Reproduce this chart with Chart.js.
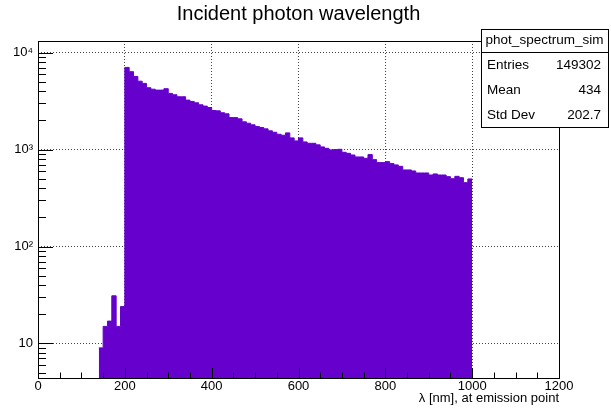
<!DOCTYPE html>
<html>
<head>
<meta charset="UTF-8">
<title>Incident photon wavelength</title>
<script src="https://cdn.jsdelivr.net/npm/chart.js"></script>
<style>
  html, body { margin: 0; padding: 0; background: #fff; }
  canvas { display: block; }
</style>
</head>
<body>
<canvas id="spec" width="611" height="412"></canvas>
<script>
// histogram bins: lower edge of each 10 nm bin, and counts
const binLow = [140, 150, 160, 170, 180, 190, 200, 210, 220, 230, 240, 250, 260, 270, 280, 290,
  300, 310, 320, 330, 340, 350, 360, 370, 380, 390, 400, 410, 420, 430, 440, 450, 460, 470, 480, 490,
  500, 510, 520, 530, 540, 550, 560, 570, 580, 590, 600, 610, 620, 630, 640, 650, 660, 670, 680, 690,
  700, 710, 720, 730, 740, 750, 760, 770, 780, 790, 800, 810, 820, 830, 840, 850, 860, 870, 880, 890,
  900, 910, 920, 930, 940, 950, 960, 970, 980, 990];
const counts = [9, 15, 17, 31, 15, 24, 7050, 6370, 5690, 5080, 4820, 4350, 4200, 4110, 4110, 4250,
  3800, 3680, 3510, 3510, 3240, 3140, 3040, 2900, 2810, 2720, 2530, 2510, 2400, 2340, 2140, 2140, 2077, 1934, 1871, 1801,
  1729, 1689, 1637, 1561, 1510, 1440, 1406, 1488, 1321, 1230, 1321, 1201, 1162, 1162, 1119, 1066, 1031, 993, 1000, 1007,
  938, 915, 880, 840, 840, 813, 888, 788, 734, 734, 751, 717, 695, 672, 617, 617, 602, 574, 574, 574,
  547, 561, 547, 547, 526, 501, 530, 513, 456, 498];
const histHigh = 1000;

const xTicks = [0, 200, 400, 600, 800, 1000, 1200];
const xTickLabels = ['0', '200', '400', '600', '800', '1000', '1200'];
const yDecades = [10, 100, 1000, 10000];
const yTickLabels = ['10', '10\u00B2', '10\u00B3', '10\u2074'];

const statName = 'phot_spectrum_sim';
const statLabels = ['Entries', 'Mean', 'Std Dev'];
const statValues = ['149302', '434', '202.7'];

const FONT = 'Liberation Sans';
const PURPLE = '#6600cc';

// stepped line: one point per lower edge, plus the closing upper edge
const pts = binLow.map((x, i) => ({ x: x, y: counts[i] }));
pts.push({ x: histHigh, y: counts[counts.length - 1] });

const rootFrame = {
  id: 'rootFrame',
  afterDatasetsDraw(chart) {
    const { ctx, chartArea: a, scales: { x, y } } = chart;
    const px = v => Math.round(v) + 0.5;
    ctx.save();
    ctx.strokeStyle = '#000';
    ctx.lineWidth = 1;
    ctx.beginPath();
    // x ticks, inside the frame
    for (let v = 0; v <= 1200; v += 50) {
      const xx = px(x.getPixelForValue(v));
      const len = v % 200 === 0 ? 10 : 5.5;
      ctx.moveTo(xx, a.bottom);
      ctx.lineTo(xx, a.bottom - len);
    }
    // log y ticks
    for (const d of [1, 10, 100, 1000, 10000]) {
      for (let m = 1; m <= 9; m++) {
        const v = d * m;
        if (v < y.min || v > y.max) continue;
        const yy = px(y.getPixelForValue(v));
        ctx.moveTo(a.left, yy);
        ctx.lineTo(a.left + (m === 1 ? 15 : 8), yy);
      }
    }
    ctx.stroke();
    ctx.strokeRect(px(a.left), px(a.top), Math.round(a.right - a.left), Math.round(a.bottom - a.top));
    ctx.restore();
  },
  afterDraw(chart) {
    const ctx = chart.ctx;
    const L = 481, R = 608, T = 29, B = 127, H = 52.5;
    ctx.save();
    ctx.fillStyle = '#fff';
    ctx.fillRect(L, T, R - L, B - T);
    ctx.strokeStyle = '#000';
    ctx.lineWidth = 1;
    ctx.strokeRect(L + 0.5, T + 0.5, R - L, B - T);
    ctx.beginPath();
    ctx.moveTo(L, H);
    ctx.lineTo(R, H);
    ctx.stroke();
    ctx.fillStyle = '#000';
    ctx.font = '13.5px "' + FONT + '"';
    ctx.textBaseline = 'middle';
    ctx.textAlign = 'center';
    ctx.fillText(statName, (L + R) / 2, 40.5);
    statLabels.forEach((s, i) => {
      const yy = 65.5 + i * 25;
      ctx.textAlign = 'left';
      ctx.fillText(s, 487, yy);
      ctx.textAlign = 'right';
      ctx.fillText(statValues[i], 601, yy);
    });
    ctx.restore();
  }
};

new Chart(document.getElementById('spec'), {
  type: 'line',
  data: {
    datasets: [{
      data: pts,
      stepped: 'before',
      fill: 'start',
      backgroundColor: PURPLE,
      borderColor: PURPLE,
      borderWidth: 1,
      pointRadius: 0
    }]
  },
  options: {
    responsive: false,
    devicePixelRatio: 1,
    animation: false,
    layout: { padding: { left: 0, right: 52, top: 0, bottom: 0 } },
    plugins: {
      legend: { display: false },
      tooltip: { enabled: false },
      title: {
        display: true,
        text: 'Incident photon wavelength',
        fullSize: false,
        color: '#000',
        font: { family: FONT, size: 20, weight: 'normal' },
        padding: { top: 2, bottom: 15 }
      }
    },
    scales: {
      x: {
        type: 'linear',
        min: 0,
        max: 1200,
        bounds: 'data',
        afterBuildTicks: s => { s.ticks = xTicks.map(v => ({ value: v })); },
        afterFit: s => { s.height = 34; },
        grid: {
          color: c => (c.tick && c.tick.value > 0 && c.tick.value < 1200) ? '#444' : 'rgba(0,0,0,0)',
          drawTicks: false
        },
        border: { display: false, dash: [1, 2] },
        ticks: {
          color: '#000',
          font: { family: FONT, size: 13 },
          padding: 1,
          maxRotation: 0,
          autoSkip: false,
          callback: (v, i) => xTickLabels[i]
        },
        title: {
          display: true,
          text: '\u03BB [nm], at emission point',
          align: 'end',
          color: '#000',
          font: { family: FONT, size: 13 },
          padding: { top: 0, bottom: 6 }
        }
      },
      y: {
        type: 'logarithmic',
        min: 4.4,
        max: 13200,
        bounds: 'data',
        afterBuildTicks: s => { s.ticks = yDecades.map(v => ({ value: v })); },
        afterFit: s => { s.width = 38; },
        grid: { color: '#444', drawTicks: false },
        border: { display: false, dash: [1, 2] },
        ticks: {
          color: '#000',
          font: { family: FONT, size: 13 },
          padding: 5,
          callback: (v, i) => yTickLabels[i]
        }
      }
    }
  },
  plugins: [rootFrame]
});
</script>
</body>
</html>
